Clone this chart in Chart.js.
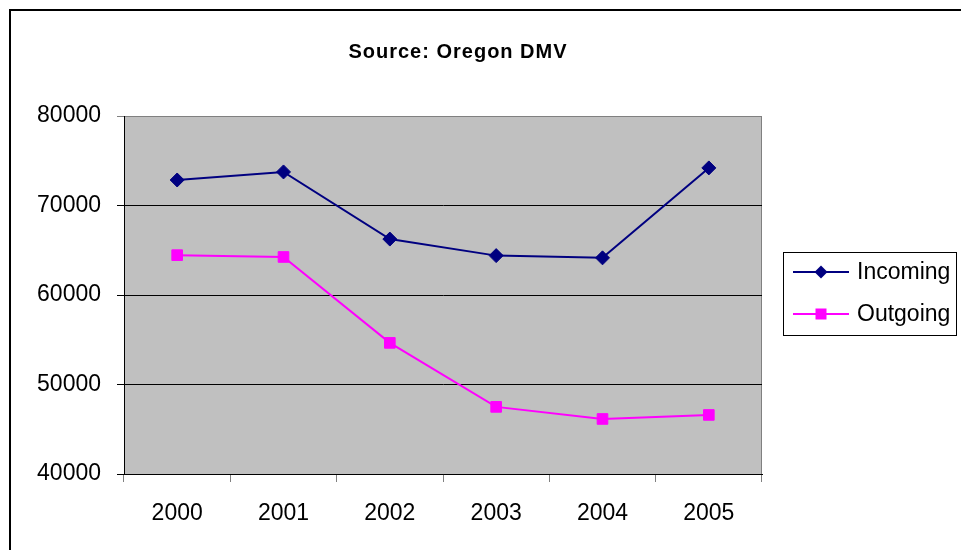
<!DOCTYPE html>
<html>
<head>
<meta charset="utf-8">
<script src="https://cdn.jsdelivr.net/npm/chart.js@4/dist/chart.umd.min.js"></script>
<style>
  html, body { margin: 0; padding: 0; background: #fff; }
  #wrap { position: relative; width: 961px; height: 550px; }
</style>
</head>
<body>
<div id="wrap"><canvas id="c" width="961" height="550"></canvas></div>
<script>
const categories = ['2000', '2001', '2002', '2003', '2004', '2005'];
const incoming = [72850, 73750, 66250, 64400, 64150, 74200];
const outgoing = [64450, 64250, 54650, 47500, 46150, 46600];
const yTickValues = [40000, 50000, 60000, 70000, 80000];
const titleText = 'Source: Oregon DMV';
const seriesNames = ['Incoming', 'Outgoing'];

const FONT = "'Liberation Sans', Arial, sans-serif";

const decorPlugin = {
  id: 'decor',
  beforeDraw(chart) {
    const { ctx, chartArea: a } = chart;
    ctx.save();
    ctx.fillStyle = '#fff';
    ctx.fillRect(0, 0, chart.width, chart.height);
    // outer frame
    ctx.strokeStyle = '#000';
    ctx.lineWidth = 2;
    ctx.strokeRect(10, 10, 980, 580);
    // plot area
    ctx.fillStyle = '#C0C0C0';
    ctx.fillRect(a.left, a.top, a.right - a.left, a.bottom - a.top);
    ctx.strokeStyle = '#808080';
    ctx.lineWidth = 1;
    ctx.strokeRect(a.left + 0.5, a.top + 0.5, a.right - a.left - 1, a.bottom - a.top);
    // title
    ctx.fillStyle = '#000';
    ctx.font = "bold 20px " + FONT;
    ctx.textAlign = 'center';
    ctx.textBaseline = 'middle';
    if ('letterSpacing' in ctx) ctx.letterSpacing = '1px';
    ctx.fillText(titleText, 458, 52);
    ctx.restore();
  },
  afterDraw(chart) {
    const { ctx } = chart;
    ctx.save();
    // legend box
    ctx.strokeStyle = '#000';
    ctx.lineWidth = 1;
    ctx.fillStyle = '#fff';
    ctx.fillRect(783.5, 252.5, 173, 83);
    ctx.strokeRect(783.5, 252.5, 173, 83);
    const rows = [272, 314];
    chart.data.datasets.forEach((ds, i) => {
      const y = rows[i];
      ctx.strokeStyle = ds.borderColor;
      ctx.lineWidth = 2;
      ctx.beginPath();
      ctx.moveTo(793, y);
      ctx.lineTo(849, y);
      ctx.stroke();
      ctx.fillStyle = ds.pointBackgroundColor;
      ctx.beginPath();
      if (ds.pointStyle === 'rectRot') {
        const r = 6.5;
        ctx.moveTo(821, y - r);
        ctx.lineTo(821 + r, y);
        ctx.lineTo(821, y + r);
        ctx.lineTo(821 - r, y);
        ctx.closePath();
      } else {
        ctx.rect(815.5, y - 5.5, 11, 11);
      }
      ctx.fill();
      ctx.fillStyle = '#000';
      ctx.font = "23px " + FONT;
      ctx.textAlign = 'left';
      ctx.textBaseline = 'middle';
      ctx.fillText(ds.label, 857, y + 1);
    });
    ctx.restore();
  }
};

new Chart(document.getElementById('c'), {
  type: 'line',
  data: {
    labels: categories,
    datasets: [
      {
        label: seriesNames[0],
        data: incoming,
        borderColor: '#000080',
        backgroundColor: '#000080',
        pointBackgroundColor: '#000080',
        pointBorderColor: '#000080',
        pointStyle: 'rectRot',
        pointRadius: 7,
        pointBorderWidth: 1,
        borderWidth: 2,
        tension: 0
      },
      {
        label: seriesNames[1],
        data: outgoing,
        borderColor: '#FF00FF',
        backgroundColor: '#FF00FF',
        pointBackgroundColor: '#FF00FF',
        pointBorderColor: '#FF00FF',
        pointStyle: 'rect',
        pointRadius: 7.5,
        pointBorderWidth: 1,
        borderWidth: 2,
        tension: 0
      }
    ]
  },
  options: {
    responsive: false,
    animation: false,
    devicePixelRatio: 1,
    layout: { padding: { left: 0, right: 199, top: 116, bottom: 0 } },
    plugins: {
      legend: { display: false },
      title: { display: false },
      tooltip: { enabled: false }
    },
    scales: {
      x: {
        type: 'category',
        offset: true,
        afterFit(s) { s.height = 76; },
        grid: {
          offset: true,
          drawOnChartArea: false,
          drawTicks: true,
          tickLength: 8,
          color: '#808080',
          lineWidth: 1
        },
        border: { display: true, color: '#000', width: 1 },
        ticks: {
          color: '#000',
          font: { family: FONT, size: 23 },
          padding: 18,
          maxRotation: 0,
          autoSkip: false
        }
      },
      y: {
        min: 40000,
        max: 80000,
        afterFit(s) { s.width = 124; },
        afterBuildTicks(s) { s.ticks = yTickValues.map(v => ({ value: v })); },
        grid: {
          drawTicks: true,
          tickLength: 7,
          color: (c) => (c.tick && c.tick.value === 80000) ? '#808080' : '#000',
          lineWidth: 1
        },
        border: { display: true, color: '#000', width: 1 },
        ticks: {
          color: '#000',
          font: { family: FONT, size: 23 },
          padding: 16,
          callback: (v) => String(v)
        }
      }
    }
  },
  plugins: [decorPlugin]
});
</script>
</body>
</html>
